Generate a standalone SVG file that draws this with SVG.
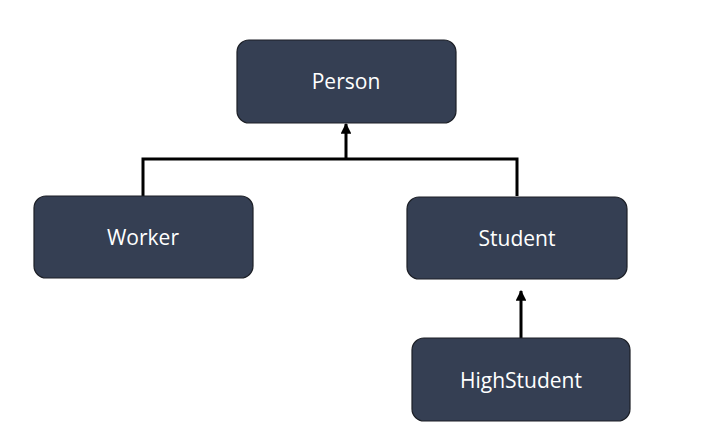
<svg xmlns="http://www.w3.org/2000/svg" width="720" height="446" viewBox="0 0 720 446">
<defs>
<style>
.node rect{fill:#353f53;stroke:#1c1f26;stroke-width:1.2}
.node text{fill:#ffffff;font-family:"Open Sans","Noto Sans","DejaVu Sans",sans-serif;font-size:21px;text-anchor:middle;dominant-baseline:central}
.conn{fill:none;stroke:#000;stroke-width:3}
</style>
<marker id="arr" viewBox="0 0 10 10" refX="9" refY="5" markerWidth="3.6" markerHeight="3.6" orient="auto" markerUnits="strokeWidth">
<path d="M0,0 L10,5 L0,10 Z" fill="#000"/>
</marker>
</defs>
<rect width="720" height="446" fill="#fff"/>
<g id="connectors">
<polyline class="conn" points="143,196 143,159 517,159 517,196"/>
<line class="conn" x1="346" y1="159" x2="346" y2="124" marker-end="url(#arr)"/>
<line class="conn" x1="521" y1="338" x2="521" y2="291" marker-end="url(#arr)"/>
</g>
<g id="person" class="node"><rect x="237" y="40" width="219" height="83" rx="12"/><text x="346" y="81">Person</text></g>
<g id="worker" class="node"><rect x="34" y="196" width="219" height="82" rx="12"/><text x="143" y="237">Worker</text></g>
<g id="student" class="node"><rect x="407" y="197" width="220" height="82" rx="12"/><text x="517" y="238">Student</text></g>
<g id="highstudent" class="node"><rect x="412" y="338" width="218" height="83" rx="12"/><text x="521" y="380">HighStudent</text></g>
</svg>
